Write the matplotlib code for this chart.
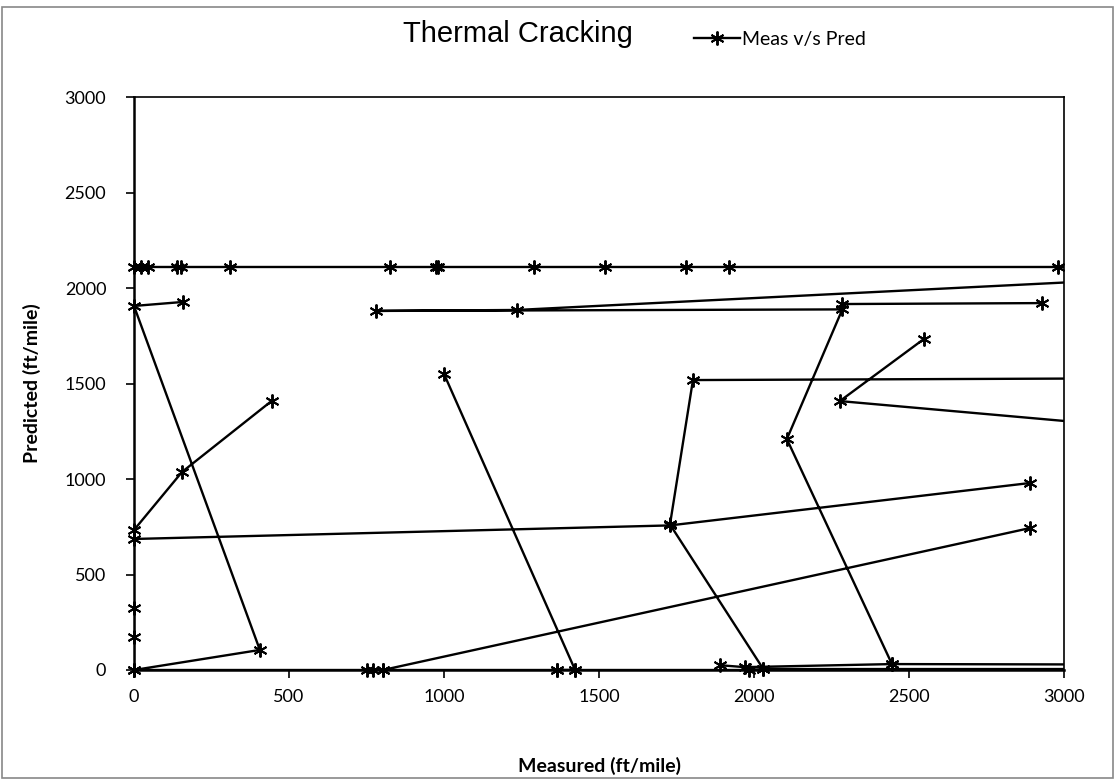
import matplotlib.pyplot as plt
import matplotlib.patches as patches
from matplotlib.lines import Line2D
import numpy as np

nan = np.nan

# Measured vs predicted thermal cracking (ft/mile); nan = blank row in the sheet
measured = [
    0, 406, 0, 158, nan,
    445, 155, 0, 0, 1729, 2890, nan,
    1000, 1423, 1365, nan,
    2030, 1729, 1803, 6000, nan,
    2445, 2106, 2285, 781, 1235, 4000, 2981, 1919, 1781, 1519, 1290, 980, 975,
    826, 310, 150, 140, 45, 22, 0, nan,
    2548, 2277, 4000, nan,
    2284, 2929, nan,
    803, 2890, nan,
    0, 0, 0, 750, 770, 803, 1365, 1423, 1985, 2030, 6000, nan,
    1890, 1970, 2445, 6000,
]
predicted = [
    0, 105, 1906, 1927, nan,
    1410, 1037, 733, 686, 757, 979, nan,
    1550, 0, 0, nan,
    5, 762, 1518, 1545, nan,
    31, 1209, 1888, 1880, 1885, 2110, 2110, 2110, 2110, 2110, 2110, 2110, 2110,
    2110, 2110, 2110, 2110, 2110, 2110, 2110, nan,
    1733, 1408, 1160, nan,
    1916, 1921, nan,
    0, 743, nan,
    325, 175, 0, 0, 0, 0, 0, 0, 0, 5, 5, nan,
    25, 15, 31, 20,
]

x_ticks = [0, 500, 1000, 1500, 2000, 2500, 3000]
y_ticks = [0, 500, 1000, 1500, 2000, 2500, 3000]

body_font = 'Lato'
title_font = 'Liberation Sans'
star = (6, 2, 0)

fig = plt.figure(figsize=(11.16, 7.81), dpi=100)
ax = fig.add_axes([134 / 1116, 1 - 670 / 781, 930 / 1116, 573 / 781])

# connecting lines are clipped at the plot area, markers are not
ax.plot(measured, predicted, color='black', linewidth=1.7)
mx = np.array(measured, dtype=float)
my = np.array(predicted, dtype=float)
inside = (mx <= 3000) & (my <= 3000)
ax.plot(mx[inside], my[inside], linestyle='none', color='black',
        marker=star, markersize=10, markeredgewidth=1.4, clip_on=False)

ax.set_xlim(0, 3000)
ax.set_ylim(0, 3000)
ax.set_xticks(x_ticks)
ax.set_yticks(y_ticks)
ax.tick_params(axis='both', direction='out', length=6, width=1.2, labelsize=13)
ax.tick_params(axis='y', pad=14)
ax.tick_params(axis='x', pad=8)
for lab in ax.get_xticklabels() + ax.get_yticklabels():
    lab.set_family(body_font)

for side in ['left', 'bottom']:
    ax.spines[side].set_linewidth(1.8)
for side in ['top', 'right']:
    ax.spines[side].set_linewidth(1.2)

fig.text(599 / 1116, 1 - 766 / 781, 'Measured (ft/mile)', ha='center', va='center',
         fontsize=14, fontweight='bold', family=body_font)
fig.text(32 / 1116, 1 - 383 / 781, 'Predicted (ft/mile)', ha='center', va='center',
         rotation=90, fontsize=14, fontweight='bold', family=body_font)

fig.text(518 / 1116, 1 - 34 / 781, 'Thermal Cracking', ha='center', va='center',
         fontsize=21, family=title_font)

handle = Line2D([], [], color='black', linewidth=1.7, marker=star,
                markersize=10, markeredgewidth=1.4)
ax.legend([handle], ['Meas v/s Pred'], loc='center left',
          bbox_to_anchor=(684 / 1116, 1 - 39 / 781),
          bbox_transform=fig.transFigure, frameon=False, handlelength=2.4,
          handletextpad=0.1, borderpad=0, prop={'family': body_font, 'size': 14})

fig.patches.append(patches.Rectangle((2 / 1116, 3 / 781), 1111 / 1116, 771 / 781,
                                     transform=fig.transFigure, fill=False,
                                     edgecolor='#888888', linewidth=1.2))

fig.savefig('out.png', dpi=100)
